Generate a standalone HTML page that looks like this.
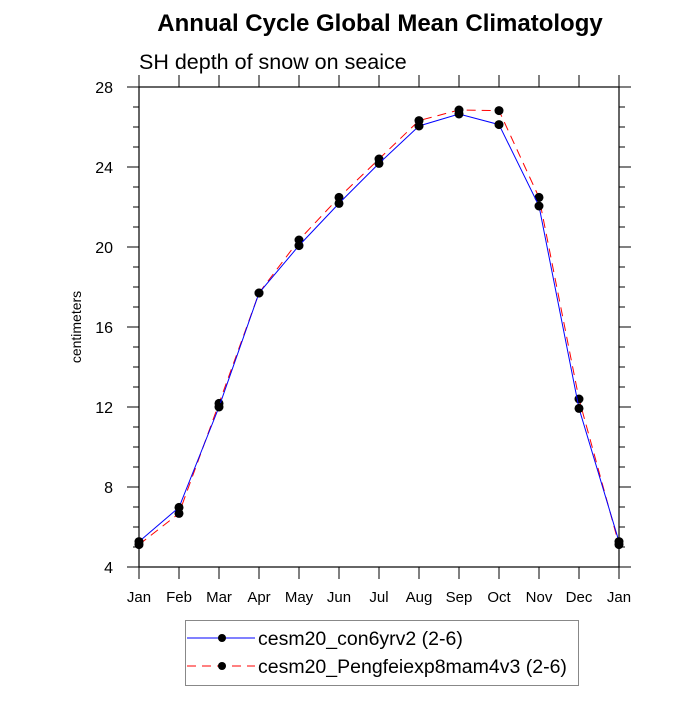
<!DOCTYPE html>
<html><head><meta charset="utf-8"><style>
body{margin:0;background:#fff}
svg text{font-family:"Liberation Sans",sans-serif}
</style></head><body>
<svg id="c" width="700" height="700">
<text x="380" y="31" text-anchor="middle" font-size="24" font-weight="bold">Annual Cycle Global Mean Climatology</text>
<text x="139" y="69" font-size="21.5">SH depth of snow on seaice</text>
<text transform="translate(81,327) rotate(-90)" text-anchor="middle" font-size="14">centimeters</text>
<g id="ax"></g>
<g id="marks"></g>
<g>
<rect x="185.5" y="620.5" width="393" height="65" fill="none" stroke="#888"/>
<g>
<line x1="187" y1="638" x2="255" y2="638" stroke="#00f" stroke-width="1"/>
<circle cx="222" cy="638" r="4" fill="#000"/>
<text x="258" y="645" font-size="19.5">cesm20_con6yrv2 (2-6)</text></g>
<g>
<line x1="187" y1="666" x2="255" y2="666" stroke="#f00" stroke-width="1" stroke-dasharray="9,6"/>
<circle cx="222" cy="666" r="4" fill="#000"/>
<text x="258" y="673" font-size="19.5">cesm20_Pengfeiexp8mam4v3 (2-6)</text></g>
</g>
</svg>
<script>
const months=["Jan","Feb","Mar","Apr","May","Jun","Jul","Aug","Sep","Oct","Nov","Dec","Jan"];
const blueVals=[5.27,6.98,12.0,17.7,20.07,22.18,24.18,26.05,26.65,26.12,22.05,11.93,5.27];
const redVals=[5.12,6.68,12.18,17.7,20.35,22.48,24.4,26.32,26.85,26.82,22.48,12.4,5.12];
const yTicks=[4,8,12,16,20,24,28];
const L=139,R=619,T=87,B=567,ymin=4,ymax=28;
const xs=i=>L+(R-L)*i/(months.length-1);
const ys=v=>B-(v-ymin)/(ymax-ymin)*(B-T);
const NS="http://www.w3.org/2000/svg";
function mk(tag,attrs,parent){const e=document.createElementNS(NS,tag);for(const k in attrs)e.setAttribute(k,attrs[k]);parent.appendChild(e);return e;}
const ax=document.getElementById('ax'),mg=document.getElementById('marks');
const fr=mk('rect',{x:L,y:T,width:R-L,height:B-T,fill:'none',stroke:'#000','stroke-width':1.2},ax);


months.forEach((m,i)=>{const x=xs(i);
 mk('line',{x1:x,y1:B,x2:x,y2:B+12,stroke:'#000'},ax);
 mk('line',{x1:x,y1:T,x2:x,y2:T-12,stroke:'#000'},ax);
 const t=mk('text',{x:x,y:602,'text-anchor':'middle','font-size':15},ax);t.textContent=m;
 
 
});
for(let v=ymin;v<=ymax;v+=1){const y=ys(v);const maj=(v%4===0);const len=maj?12:6;
 mk('line',{x1:L,y1:y,x2:L-len,y2:y,stroke:'#000'},ax);
 mk('line',{x1:R,y1:y,x2:R+len,y2:y,stroke:'#000'},ax);}
yTicks.forEach(v=>{const t=mk('text',{x:113,y:ys(v)+6,'text-anchor':'end','font-size':16},ax);t.textContent=v;
 
 });
function series(vals,color,dash,name){
 const p=mk('polyline',{points:vals.map((v,i)=>xs(i)+','+ys(v)).join(' '),fill:'none',stroke:color,'stroke-width':1,'stroke-dasharray':dash},mg);
 
 
 vals.forEach((v,i)=>{const c=mk('circle',{cx:xs(i),cy:ys(v),r:4.5,fill:'#000'},mg);
  
  });
}
series(redVals,'#f00','9,6','pengfeiexp8mam4v3');
series(blueVals,'#00f','none','con6yrv2');
</script>
</body></html>
